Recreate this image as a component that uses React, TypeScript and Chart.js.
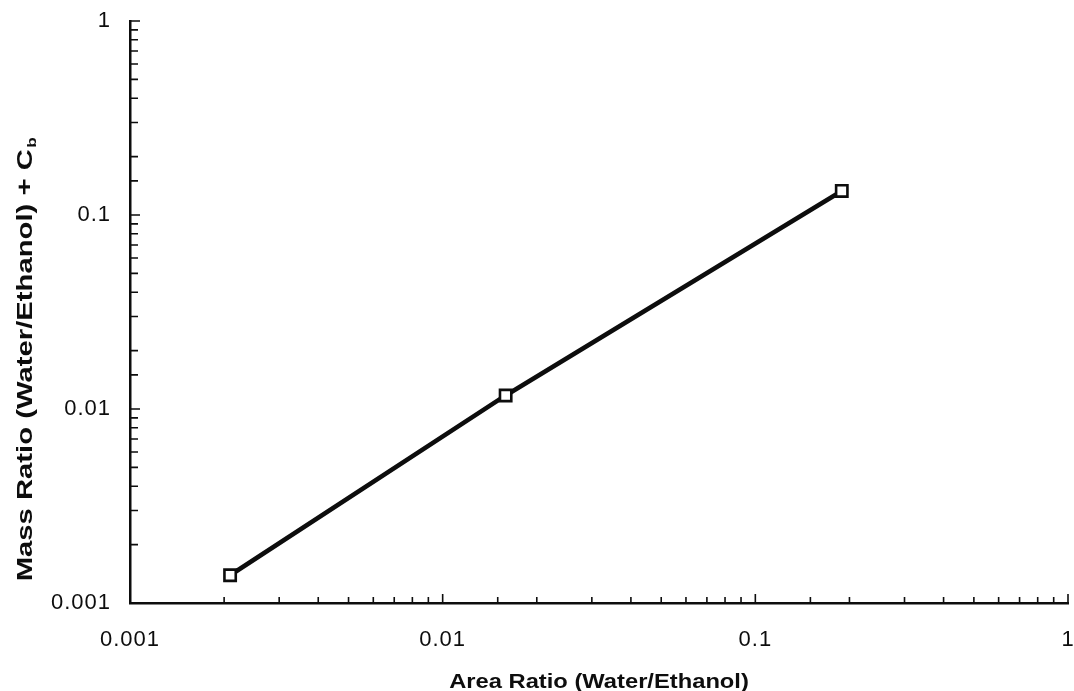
import React, { useEffect, useRef } from "react";
import { Chart, registerables } from "chart.js";

Chart.register(...registerables);

// Data
const areaRatio = [0.00209, 0.0159, 0.189];
const massRatio = [0.00139, 0.01174, 0.133];

const xTickValues = [0.001, 0.01, 0.1, 1];
const xTickLabels = ["0.001", "0.01", "0.1", "1"];
const yTickValues = [0.001, 0.01, 0.1, 1];
const yTickLabels = ["0.001", "0.01", "0.1", "1"];

const xTitle = "Area Ratio (Water/Ethanol)";
const yTitleMain = "Mass Ratio (Water/Ethanol) + C";
const yTitleSub = "b";

const FONT = '"Liberation Sans", Arial, Helvetica, sans-serif';
const INK = "#0d0d0d";

function labelFor(v: number, vals: number[], labels: string[]) {
  const i = vals.findIndex((t) => Math.abs(v / t - 1) < 1e-6);
  return i >= 0 ? labels[i] : "";
}

const isDecade = (v: number) => {
  const lg = Math.log10(v);
  return Math.abs(lg - Math.round(lg)) < 1e-6;
};

const decorPlugin = {
  id: "decor",
  beforeDraw(chart: any) {
    try {
      chart.ctx.letterSpacing = "1px";
    } catch (e) {}
  },
  afterDraw(chart: any) {
    const ctx = chart.ctx;
    const area = chart.chartArea;
    const xs = chart.scales.x;
    const ys = chart.scales.y;
    ctx.save();
    try {
      ctx.letterSpacing = "0px";
    } catch (e) {}
    ctx.strokeStyle = INK;
    ctx.lineWidth = 1.6;
    ctx.beginPath();
    for (const t of xs.ticks) {
      const px = xs.getPixelForValue(t.value);
      const len = isDecade(t.value) ? 9 : 6;
      ctx.moveTo(px, area.bottom);
      ctx.lineTo(px, area.bottom - len);
    }
    for (const t of ys.ticks) {
      const py = ys.getPixelForValue(t.value);
      const len = isDecade(t.value) ? 10 : 8;
      ctx.moveTo(area.left, py);
      ctx.lineTo(area.left + len, py);
    }
    ctx.stroke();

    // X title
    ctx.fillStyle = INK;
    ctx.save();
    ctx.font = `bold 21px ${FONT}`;
    ctx.textAlign = "center";
    ctx.textBaseline = "alphabetic";
    ctx.translate((area.left + area.right) / 2, 688);
    ctx.scale(1.13, 1);
    ctx.fillText(xTitle, 0, 0);
    ctx.restore();

    // Y title with subscript
    ctx.save();
    ctx.translate(24, 360);
    ctx.rotate(-Math.PI / 2);
    ctx.scale(1.33, 1);
    ctx.textAlign = "left";
    ctx.textBaseline = "alphabetic";
    ctx.font = `bold 22px ${FONT}`;
    const w1 = ctx.measureText(yTitleMain).width;
    ctx.font = `bold 13px ${FONT}`;
    const w2 = ctx.measureText(yTitleSub).width;
    const start = -(w1 + w2) / 2;
    ctx.font = `bold 22px ${FONT}`;
    ctx.fillText(yTitleMain, start, 8);
    ctx.font = `bold 13px ${FONT}`;
    ctx.fillText(yTitleSub, start + w1 + 1, 12);
    ctx.restore();

    ctx.restore();
  },
};

export default function App() {
  const ref = useRef<HTMLCanvasElement | null>(null);

  useEffect(() => {
    if (!ref.current) return;
    const chart = new Chart(ref.current, {
      type: "scatter",
      data: {
        datasets: [
          {
            data: areaRatio.map((x, i) => ({ x, y: massRatio[i] })),
            showLine: true,
            borderColor: INK,
            borderWidth: 4.5,
            tension: 0,
            pointStyle: "rect",
            pointRadius: 8,
            pointBorderWidth: 2.6,
            pointBackgroundColor: "#fff",
            pointBorderColor: INK,
          },
        ],
      },
      options: {
        animation: false,
        responsive: true,
        maintainAspectRatio: false,
        layout: { autoPadding: false, padding: { left: 0, right: 6, top: 21, bottom: 0 } },
        plugins: {
          legend: { display: false },
          tooltip: { enabled: false },
        },
        scales: {
          x: {
            type: "logarithmic",
            min: 0.001,
            max: 1,
            grid: { display: true, drawOnChartArea: false, drawTicks: false },
            border: { display: true, color: INK, width: 2.5 },
            ticks: {
              autoSkip: false,
              maxRotation: 0,
              padding: 24,
              color: INK,
              font: { family: FONT, size: 22 },
              callback: (v: any) => labelFor(Number(v), xTickValues, xTickLabels),
            },
            afterFit: (s: any) => {
              s.height = 88;
              s.paddingLeft = 0;
              s.paddingRight = 0;
            },
          },
          y: {
            type: "logarithmic",
            min: 0.001,
            max: 1,
            grid: { display: true, drawOnChartArea: false, drawTicks: false },
            border: { display: true, color: INK, width: 2.5 },
            ticks: {
              autoSkip: false,
              padding: 19,
              color: INK,
              font: { family: FONT, size: 22 },
              callback: (v: any) => labelFor(Number(v), yTickValues, yTickLabels),
            },
            afterFit: (s: any) => {
              s.width = 130;
              s.paddingTop = 0;
              s.paddingBottom = 0;
            },
          },
        },
      },
      plugins: [decorPlugin],
    });
    return () => chart.destroy();
  }, []);

  return (
    <div
      style={{
        position: "absolute",
        left: 0,
        top: 0,
        width: 1074,
        height: 691,
        background: "#fff",
      }}
    >
      <canvas ref={ref} />
    </div>
  );
}
